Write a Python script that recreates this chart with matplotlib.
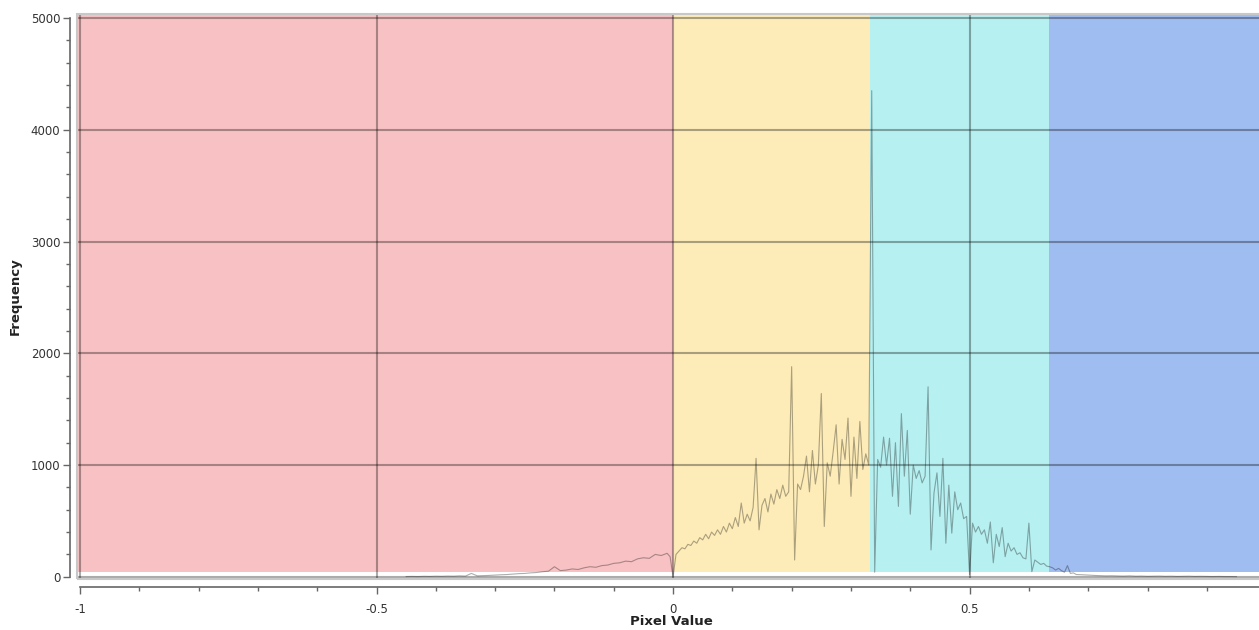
import numpy as np
import matplotlib
matplotlib.use("Agg")
import matplotlib.pyplot as plt
from matplotlib.patches import Rectangle

# histogram
left_x = np.round(np.arange(-0.45, -0.005, 0.01), 3)
left_y = [2, 3, 2, 4, 3, 5, 4, 6, 5, 8, 6, 30, 8, 10, 12, 15, 18, 20, 24, 28,
          30, 35, 38, 45, 50, 90, 55, 60, 70, 65, 80, 90, 85, 100, 105, 120,
          125, 140, 135, 160, 170, 165, 200, 190, 210]

core_x = np.round(np.arange(-0.005, 0.6801, 0.005), 3)
core_y = [180, 0, 200, 230, 260, 250, 290, 280, 320, 300, 350,
          330, 380, 340, 400, 370, 420, 380, 450, 400, 480,
          430, 530, 450, 660, 480, 560, 500, 620, 1060, 420,
          640, 700, 580, 740, 650, 780, 700, 820, 720, 760,
          1880, 150, 830, 780, 900, 1080, 760, 1130, 830, 1000,
          1640, 450, 1020, 900, 1120, 1360, 830, 1230, 1050, 1420,
          720, 1250, 880, 1390, 960, 1100, 1000, 4350, 40, 1050,
          980, 1250, 1000, 1240, 720, 1200, 630, 1460, 900, 1310,
          560, 1000, 880, 950, 840, 900, 1700, 240, 750, 930,
          540, 1060, 300, 820, 390, 760, 600, 660, 520, 540,
          20, 480, 400, 450, 380, 420, 300, 490, 125, 380,
          270, 440, 180, 300, 230, 260, 200, 215, 170, 160,
          480, 45, 150, 130, 110, 120, 95, 90, 80, 60,
          75, 55, 40, 100, 30, 35, 20]

right_x = np.round(np.arange(0.69, 0.955, 0.01), 3)
right_y = [18, 15, 12, 10, 8, 9, 7, 6, 8, 5, 6, 4, 5, 6, 4, 5, 3, 4, 5, 3,
           4, 3, 2, 3, 2, 2, 1]

# coloured ranges
band_edges = [-1.003, 0.0, 0.332, 0.634, 1.0]
band_colors = ["#f8c2c4", "#fdecb8", "#b7f0f1", "#a0bdf1"]

xs = np.concatenate([left_x, core_x, right_x])
ys = np.concatenate([left_y, core_y, right_y])

fig = plt.figure(figsize=(12.59, 6.30), dpi=100)
ax = fig.add_axes([77 / 1259, 51 / 630, 1182 / 1259, 565 / 630])
ax.set_xlim(-1.005, 0.988)
ax.set_ylim(-20, 5036)

for i in range(len(band_colors)):
    ax.fill_between([band_edges[i], band_edges[i + 1]], 45, 5100,
                    color=band_colors[i], lw=0, zorder=1)

ax.set_xticks([-1, -0.5, 0, 0.5])
ax.set_xticklabels(["-1", "-0.5", "0", "0.5"])
ax.set_xticks(np.arange(-1, 1.0, 0.1), minor=True)
ax.set_yticks(np.arange(0, 5001, 1000))
ax.set_yticks(np.arange(0, 5001, 200), minor=True)
ax.grid(True, which="major", color="black", alpha=0.33, lw=1.5, zorder=2)
ax.set_axisbelow(False)

ax.plot(xs, ys, color="black", alpha=0.32, lw=0.8, zorder=3)

for s in ["top", "right"]:
    ax.spines[s].set_visible(False)
ax.spines["left"].set_position(("outward", 5))
ax.spines["bottom"].set_position(("outward", 6))
ax.spines["left"].set_bounds(0, 5000)
ax.spines["bottom"].set_bounds(-1, 0.988)
for s in ["left", "bottom"]:
    ax.spines[s].set_color("#666666")
    ax.spines[s].set_linewidth(1.2)
ax.tick_params(which="major", length=5, width=1, color="#666666",
               labelsize=8.5, labelcolor="#333333", pad=2)
ax.tick_params(which="minor", length=3, width=1, color="#666666")
ax.tick_params(axis="x", which="major", length=5, pad=6)

# light frame round the plot area
ax.add_patch(Rectangle((0, 0), 1.01, 1, transform=ax.transAxes, fill=False,
                       ec="#c8c8c8", lw=1.5, clip_on=False, zorder=4))

ax.set_xlabel("Pixel Value", fontsize=9.5, fontweight="bold", color="#222222")
ax.set_ylabel("Frequency", fontsize=9.5, fontweight="bold", color="#222222")
ax.xaxis.set_label_coords(0.503, -0.064)
ax.yaxis.set_label_coords(-0.047, 0.5)

fig.savefig("out.png", dpi=100)
